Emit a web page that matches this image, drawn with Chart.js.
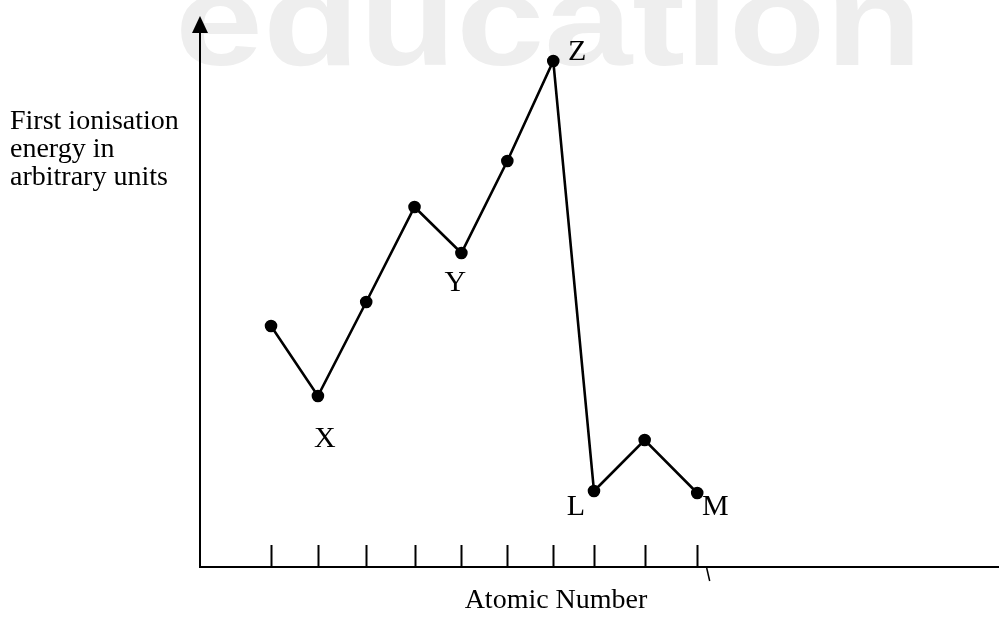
<!DOCTYPE html>
<html><head><meta charset="utf-8">
<script src="https://cdn.jsdelivr.net/npm/chart.js@4"></script>
<style>html,body{margin:0;padding:0;background:#fff;overflow:hidden}canvas{display:block}</style>
</head><body>
<canvas id="c" width="1006" height="622" style="width:1006px;height:622px"></canvas>
<script>
// ---- data ----
const atomicPos = [1, 1.99, 3.01, 4.03, 5.02, 5.99, 6.96, 7.82, 8.89, 10.0];
const energy = [24.1, 17.1, 26.5, 36.0, 31.4, 40.6, 50.6, 7.6, 12.7, 7.4];
const pointLabels = ['', 'X', '', '', 'Y', '', 'Z', 'L', '', 'M'];
const yTitleLines = ['First ionisation', 'energy in', 'arbitrary units'];
const xTitle = 'Atomic Number';
const watermark = 'education';

// ---- styles / placement ----
const labelOffsets = { X: [7, 43], Y: [-6, 30], Z: [24, -9], L: [-18, 16], M: [18, 14] };
const SERIF = '"Liberation Serif", "Times New Roman", serif';

const decor = {
  id: 'decor',
  beforeDraw(chart) {
    const ctx = chart.ctx;
    ctx.save();
    ctx.font = 'bold 130px "Liberation Sans", Arial, sans-serif';
    ctx.textBaseline = 'alphabetic';
    const w = ctx.measureText(watermark).width;
    ctx.translate(175, 65);
    ctx.scale(747 / w, 1);
    ctx.fillStyle = '#eeeeee';
    ctx.fillText(watermark, 0, 0);
    ctx.restore();
  },
  afterDraw(chart) {
    const { ctx, chartArea: a, scales: { x, y } } = chart;
    ctx.save();
    ctx.strokeStyle = '#000';
    ctx.fillStyle = '#000';
    ctx.lineWidth = 2;
    // tick marks pointing up into the plot
    atomicPos.forEach(v => {
      const px = Math.round(x.getPixelForValue(v)) + 0.5;
      ctx.beginPath();
      ctx.moveTo(px, a.bottom);
      ctx.lineTo(px, a.bottom - 22);
      ctx.stroke();
    });
    // small stray stroke below the axis (scan mark)
    const sx = x.getPixelForValue(10.2);
    ctx.lineWidth = 1.5;
    ctx.beginPath();
    ctx.moveTo(sx, a.bottom + 1);
    ctx.lineTo(sx + 3, a.bottom + 14);
    ctx.stroke();
    // arrow head on y axis
    const ax = a.left;
    ctx.beginPath();
    ctx.moveTo(ax, a.top - 16);
    ctx.lineTo(ax - 8, a.top + 1);
    ctx.lineTo(ax + 8, a.top + 1);
    ctx.closePath();
    ctx.fill();
    // point labels
    ctx.font = '30px ' + SERIF;
    ctx.textAlign = 'center';
    ctx.textBaseline = 'middle';
    pointLabels.forEach((lab, i) => {
      if (!lab) return;
      const o = labelOffsets[lab];
      ctx.fillText(lab, x.getPixelForValue(atomicPos[i]) + o[0], y.getPixelForValue(energy[i]) + o[1]);
    });
    // y title (left)
    ctx.font = '28px ' + SERIF;
    ctx.textAlign = 'left';
    ctx.textBaseline = 'alphabetic';
    yTitleLines.forEach((t, i) => ctx.fillText(t, 10, 129 + i * 28));
    // x title
    ctx.textAlign = 'center';
    ctx.fillText(xTitle, 556, 608);
    ctx.restore();
  }
};

new Chart(document.getElementById('c'), {
  type: 'line',
  data: {
    datasets: [{
      data: atomicPos.map((v, i) => ({ x: v, y: energy[i] })),
      borderColor: '#000',
      backgroundColor: '#000',
      borderWidth: 2.6,
      pointRadius: 5,
      pointBackgroundColor: '#000',
      pointBorderColor: '#000',
      tension: 0,
      fill: false
    }]
  },
  options: {
    responsive: false,
    animation: false,
    events: [],
    layout: { padding: { left: 200, top: 32, right: 0, bottom: 0 } },
    plugins: { legend: { display: false }, tooltip: { enabled: false } },
    scales: {
      x: {
        type: 'linear', position: 'bottom', min: -0.5, max: 16.36,
        grid: { display: false },
        ticks: { display: false },
        border: { display: true, color: '#000', width: 2 },
        afterFit: s => { s.height = 55; }
      },
      y: {
        type: 'linear', position: 'left', min: 0, max: 53.5,
        grid: { display: false },
        ticks: { display: false },
        border: { display: true, color: '#000', width: 2 },
        afterFit: s => { s.width = 0; }
      }
    }
  },
  plugins: [decor]
});
</script>
</body></html>
